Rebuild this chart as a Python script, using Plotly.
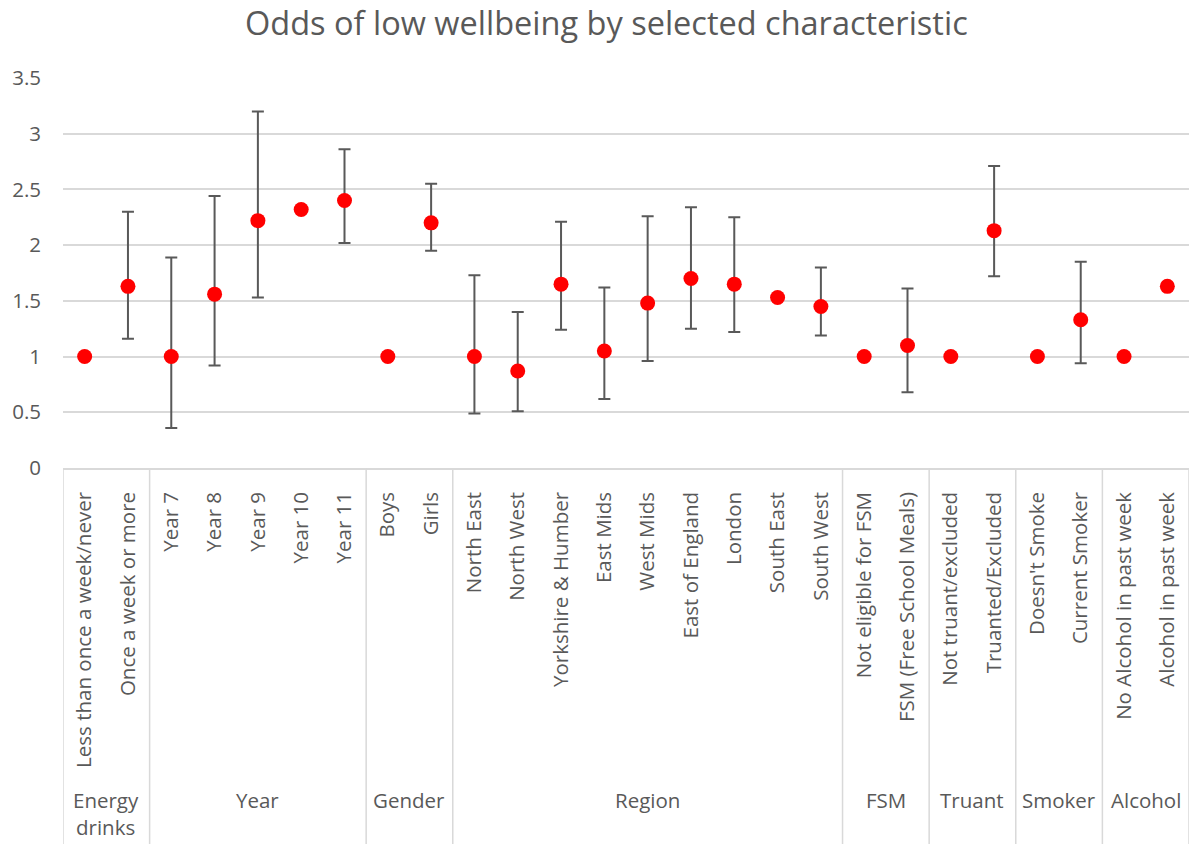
import plotly.graph_objects as go

categories = [
    "Less than once a week/never", "Once a week or more",
    "Year 7", "Year 8", "Year 9", "Year 10", "Year 11",
    "Boys", "Girls",
    "North East", "North West", "Yorkshire & Humber", "East Mids", "West Mids",
    "East of England", "London", "South East", "South West",
    "Not eligible for FSM", "FSM (Free School Meals)",
    "Not truant/excluded", "Truanted/Excluded",
    "Doesn't Smoke", "Current Smoker",
    "No Alcohol in past week", "Alcohol in past week",
]
groups = ["Energy<br>drinks", "Year", "Gender", "Region", "FSM", "Truant", "Smoker", "Alcohol"]
group_sizes = [2, 5, 2, 9, 2, 2, 2, 2]

odds = [1.00, 1.63, 1.00, 1.56, 2.22, 2.32, 2.40, 1.00, 2.20,
        1.00, 0.87, 1.65, 1.05, 1.48, 1.70, 1.65, 1.53, 1.45,
        1.00, 1.10, 1.00, 2.13, 1.00, 1.33, 1.00, 1.63]
upper = [None, 2.30, 1.89, 2.44, 3.20, None, 2.86, None, 2.55,
         1.73, 1.40, 2.21, 1.62, 2.26, 2.34, 2.25, None, 1.80,
         None, 1.61, None, 2.71, None, 1.85, None, None]
lower = [None, 1.16, 0.36, 0.92, 1.53, None, 2.02, None, 1.95,
         0.49, 0.51, 1.24, 0.62, 0.96, 1.25, 1.22, None, 1.19,
         None, 0.68, None, 1.72, None, 0.94, None, None]

text_color = "#595959"
grid_color = "#d9d9d9"
font_family = "Open Sans, sans-serif"
fs = 20.5

idx = list(range(len(categories)))
eb_x = [i for i in idx if upper[i] is not None]
eb_y = [odds[i] for i in eb_x]
eb_plus = [upper[i] - odds[i] for i in eb_x]
eb_minus = [odds[i] - lower[i] for i in eb_x]

fig = go.Figure()
fig.add_trace(go.Scatter(
    x=eb_x, y=eb_y, mode="markers",
    marker=dict(size=15, color="rgba(0,0,0,0)"),
    error_y=dict(type="data", symmetric=False, array=eb_plus, arrayminus=eb_minus,
                 color=text_color, thickness=2, width=6),
    hoverinfo="skip", showlegend=False,
))
fig.add_trace(go.Scatter(
    x=idx, y=odds, mode="markers",
    marker=dict(size=15, color="#ff0000", line=dict(width=0)),
    showlegend=False,
))

# group dividers and labels
bottom = -376 / 390
shapes = []
annotations = []
start = 0
bounds = [-0.5]
for g, n in zip(groups, group_sizes):
    end = start + n
    bounds.append(end - 0.5)
    annotations.append(dict(
        x=(start + end - 1) / 2, xref="x", y=-316 / 390, yref="paper",
        text=g, showarrow=False, yanchor="top", xanchor="center",
        font=dict(size=fs, color=text_color, family=font_family),
    ))
    start = end
for b in bounds:
    shapes.append(dict(type="line", xref="x", yref="paper", x0=b, x1=b, y0=0, y1=bottom,
                       line=dict(color=grid_color, width=1.5), layer="above"))

fig.update_layout(
    width=1189, height=844,
    margin=dict(l=63, r=0, t=78, b=376),
    paper_bgcolor="white", plot_bgcolor="white",
    title=dict(text="Odds of low wellbeing by selected characteristic",
               x=0.51, xanchor="center", y=1 - 24 / 844, yanchor="middle",
               font=dict(size=32.5, color=text_color, family=font_family)),
    font=dict(family=font_family, color=text_color),
    shapes=shapes, annotations=annotations,
    xaxis=dict(range=[-0.5, len(categories) - 0.5], tickvals=idx, ticktext=categories,
               tickangle=-90, showgrid=False, zeroline=False,
               showline=True, linecolor=grid_color, linewidth=1.5,
               ticks="", ticklabelstandoff=14,
               tickfont=dict(size=fs, color=text_color, family=font_family)),
    yaxis=dict(range=[0, 3.5], dtick=0.5, showgrid=True, gridcolor=grid_color, gridwidth=1.5,
               zeroline=False, showline=False, ticks="", ticklabelstandoff=21,
               tickfont=dict(size=fs, color=text_color, family=font_family)),
)

fig.write_html("out.html", config={"displayModeBar": False},
               post_script="document.body.style.margin='0';")
